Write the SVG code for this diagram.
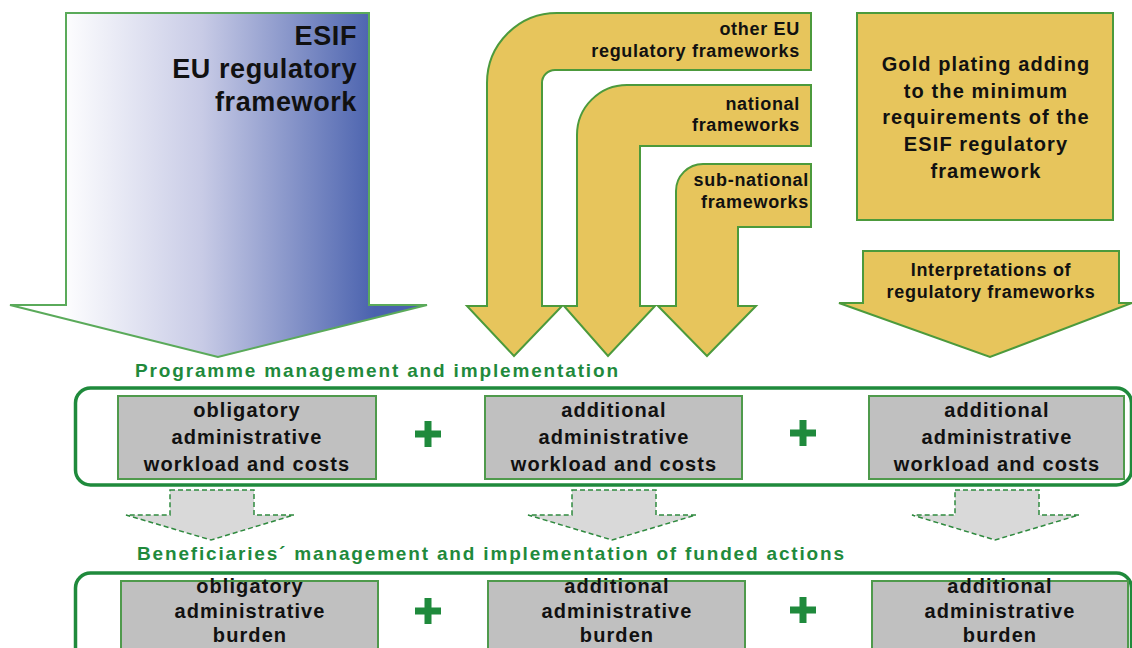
<svg xmlns="http://www.w3.org/2000/svg" width="1132" height="648" viewBox="0 0 1132 648">
<style>
.t{font-family:"Liberation Sans",Arial,sans-serif;font-weight:bold;fill:#111}
.big{font-size:27px;letter-spacing:0.6px}
.arr{font-size:18px;letter-spacing:0.7px}
.gold{font-size:20px;letter-spacing:1.1px}
.box{font-size:20px;letter-spacing:1.1px}
.lbl{font-family:"Liberation Sans",Arial,sans-serif;font-weight:bold;font-size:19px;fill:#1f8a3c}
.yel{fill:#e7c55c;stroke:#4c9a3c;stroke-width:2;stroke-linejoin:miter}
.gray{fill:#c0c0c0;stroke:#4f9a4c;stroke-width:2}
.cont{fill:none;stroke:#1f8a3c;stroke-width:3.5}
.dash{fill:#d9d9d9;stroke:#2f8a3f;stroke-width:1.5;stroke-dasharray:5 3}
.plus{stroke:#1f8a3c;stroke-width:7;fill:none}
</style>
<defs>
<linearGradient id="blue" gradientUnits="userSpaceOnUse" x1="60" y1="0" x2="375" y2="0">
<stop offset="0" stop-color="#ffffff"/>
<stop offset="0.45" stop-color="#c8cbe6"/>
<stop offset="1" stop-color="#4a62ae"/>
</linearGradient>
</defs>

<g id="esif">
<path d="M66,13 L369,13 L369,305 L427,305 L218,357 L10,305 L66,305 Z" fill="url(#blue)" stroke="#5aaa5a" stroke-width="2"/>
<text class="t big" text-anchor="end" x="357" y="45">ESIF</text>
<text class="t big" text-anchor="end" x="357" y="78">EU regulatory</text>
<text class="t big" text-anchor="end" x="357" y="111">framework</text>
</g>

<g id="other-eu">
<path class="yel" d="M811,13 L557,13 A70,70 0 0 0 487,83 L487,306 L467,306 L514,356 L562,306 L542,306 L542,83 A13,13 0 0 1 555,70 L811,70 Z"/>
<text class="t arr" text-anchor="end" x="800" y="35">other EU</text>
<text class="t arr" text-anchor="end" x="800" y="57">regulatory frameworks</text>
</g>

<g id="national">
<path class="yel" d="M811,85 L627,85 A50,50 0 0 0 577,135 L577,306 L564,306 L608,356 L655,306 L640,306 L640,146 L811,146 Z"/>
<text class="t arr" text-anchor="end" x="800" y="110">national</text>
<text class="t arr" text-anchor="end" x="800" y="131">frameworks</text>
</g>

<g id="sub-national">
<path class="yel" d="M811,164 L703,164 A27,27 0 0 0 676,191 L676,306 L658,306 L707,356 L756,306 L738,306 L738,227 L811,227 Z"/>
<text class="t arr" text-anchor="end" x="809" y="186">sub-national</text>
<text class="t arr" text-anchor="end" x="809" y="208">frameworks</text>
</g>

<g id="gold-plating">
<rect class="yel" x="857" y="13" width="256" height="207"/>
<text class="t gold" text-anchor="middle" x="986" y="71">Gold plating adding</text>
<text class="t gold" text-anchor="middle" x="986" y="98">to the minimum</text>
<text class="t gold" text-anchor="middle" x="986" y="124">requirements of the</text>
<text class="t gold" text-anchor="middle" x="986" y="151">ESIF regulatory</text>
<text class="t gold" text-anchor="middle" x="986" y="178">framework</text>
</g>

<g id="interpretations">
<path class="yel" d="M863,251 L1119,251 L1119,303 L1132,303 L990,357 L839,303 L863,303 Z"/>
<text class="t arr" text-anchor="middle" x="991" y="276">Interpretations of</text>
<text class="t arr" text-anchor="middle" x="991" y="298">regulatory frameworks</text>
</g>

<g id="programme">
<text class="lbl" x="135" y="377" textLength="483" lengthAdjust="spacing">Programme management and implementation</text>
<rect class="cont" x="75.5" y="388" width="1056" height="97" rx="15"/>
</g>

<g id="prog-obligatory">
<rect class="gray" x="118" y="396" width="258" height="83"/>
<text class="t box" text-anchor="middle" x="247" y="417">obligatory</text>
<text class="t box" text-anchor="middle" x="247" y="444">administrative</text>
<text class="t box" text-anchor="middle" x="247" y="471">workload and costs</text>
</g>
<g id="prog-additional-1">
<rect class="gray" x="485" y="396" width="257" height="83"/>
<text class="t box" text-anchor="middle" x="614" y="417">additional</text>
<text class="t box" text-anchor="middle" x="614" y="444">administrative</text>
<text class="t box" text-anchor="middle" x="614" y="471">workload and costs</text>
</g>
<g id="prog-additional-2">
<rect class="gray" x="869" y="396" width="255" height="83"/>
<text class="t box" text-anchor="middle" x="997" y="417">additional</text>
<text class="t box" text-anchor="middle" x="997" y="444">administrative</text>
<text class="t box" text-anchor="middle" x="997" y="471">workload and costs</text>
</g>
<g id="plus-row1">
<path class="plus" d="M415,434 H441 M428,421 V447"/>
<path class="plus" d="M790,433 H816 M803,420 V446"/>
</g>

<g id="connectors">
<path class="dash" d="M170,490 L254,490 L254,515 L294,515 L211,540 L126,515 L170,515 Z"/>
<path class="dash" d="M572,490 L656,490 L656,515 L696,515 L612,540 L528,515 L572,515 Z"/>
<path class="dash" d="M955,490 L1039,490 L1039,515 L1079,515 L995,540 L912,515 L955,515 Z"/>
</g>

<g id="beneficiaries">
<text class="lbl" x="137" y="560" textLength="707" lengthAdjust="spacing">Beneficiaries´ management and implementation of funded actions</text>
<rect class="cont" x="75.5" y="573" width="1056" height="100" rx="15"/>
</g>

<g id="ben-obligatory">
<rect class="gray" x="121" y="581" width="257" height="70"/>
<text class="t box" text-anchor="middle" x="250" y="593">obligatory</text>
<text class="t box" text-anchor="middle" x="250" y="618">administrative</text>
<text class="t box" text-anchor="middle" x="250" y="642">burden</text>
</g>
<g id="ben-additional-1">
<rect class="gray" x="488" y="581" width="257" height="70"/>
<text class="t box" text-anchor="middle" x="617" y="593">additional</text>
<text class="t box" text-anchor="middle" x="617" y="618">administrative</text>
<text class="t box" text-anchor="middle" x="617" y="642">burden</text>
</g>
<g id="ben-additional-2">
<rect class="gray" x="872" y="581" width="256" height="70"/>
<text class="t box" text-anchor="middle" x="1000" y="593">additional</text>
<text class="t box" text-anchor="middle" x="1000" y="618">administrative</text>
<text class="t box" text-anchor="middle" x="1000" y="642">burden</text>
</g>
<g id="plus-row2">
<path class="plus" d="M415,611 H441 M428,598 V624"/>
<path class="plus" d="M790,610 H816 M803,597 V623"/>
</g>
</svg>
